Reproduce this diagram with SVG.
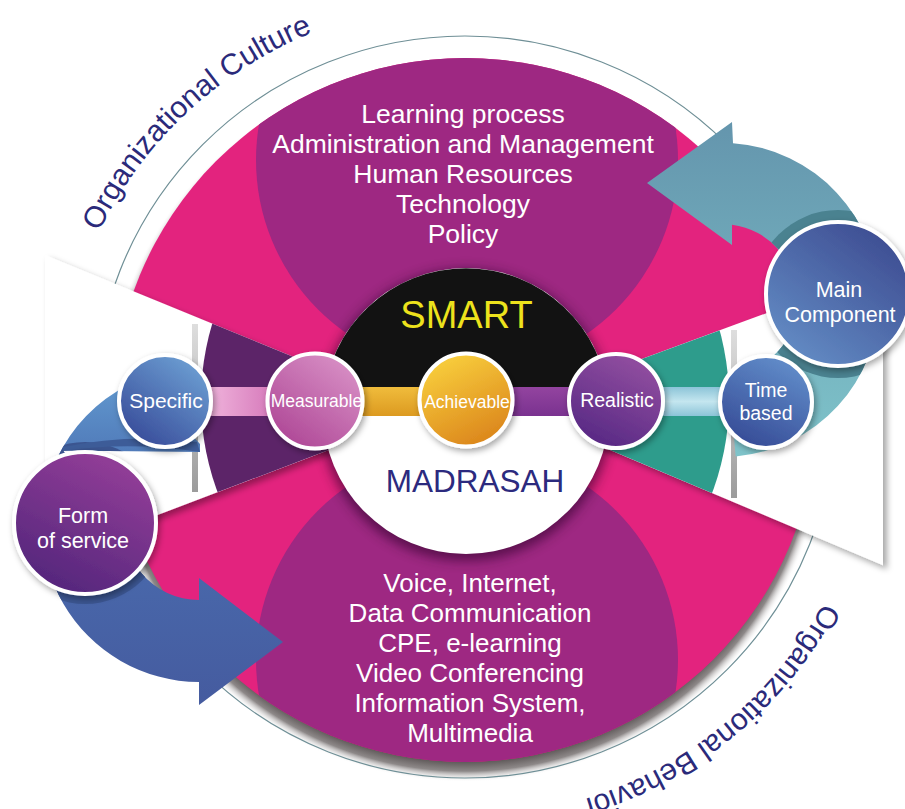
<svg xmlns="http://www.w3.org/2000/svg" width="905" height="809" viewBox="0 0 905 809">
<defs>
<style>
.lbl{font-family:"Liberation Sans",Arial,Helvetica,sans-serif;fill:#fff;text-anchor:middle}
.lens{font-family:"Liberation Sans",Arial,Helvetica,sans-serif;fill:#fff;text-anchor:middle}
.arc{font-family:"Liberation Sans",Arial,Helvetica,sans-serif;fill:#2b2a7a;font-size:30px}
.node{stroke:#fff;stroke-width:4;filter:url(#ds)}
</style>
<filter id="ds" x="-30%" y="-30%" width="160%" height="160%"><feDropShadow dx="2" dy="3" stdDeviation="3" flood-color="#000" flood-opacity="0.35"/></filter>
<filter id="wsh" x="-10%" y="-10%" width="130%" height="130%"><feDropShadow dx="4" dy="4" stdDeviation="3" flood-color="#000" flood-opacity="0.35"/></filter>
<filter id="blur6" x="-20%" y="-20%" width="140%" height="140%"><feGaussianBlur stdDeviation="6"/></filter>
<radialGradient id="rim" gradientUnits="userSpaceOnUse" cx="465" cy="420" r="362"><stop offset="0.94" stop-color="#585252"/><stop offset="0.97" stop-color="#8d8888"/><stop offset="1" stop-color="#ffffff" stop-opacity="0"/></radialGradient>
<clipPath id="pinkClip"><circle cx="465" cy="410" r="352"/></clipPath>
<clipPath id="innerClip"><circle cx="465" cy="400" r="264"/></clipPath>
<clipPath id="tealClip"><path d="M735.7,456.4 A157,157 0 0 0 879,300 A157,157 0 0 0 733,143.3 L732,122 L647,183 L732,245 L732,224.7 A76,76 0 0 1 798,300 A76,76 0 0 1 728.6,375.7 Z"/></clipPath>
<clipPath id="blueClip"><path d="M283,642 L199,705 L199,682 A157,157 0 0 1 63,447 A157,157 0 0 1 140.2,379.4 L200,444 L200,452 L63,450.5 L100,500 L125.1,512 A75,75 0 0 0 199,600 L199,578 Z"/></clipPath>
<linearGradient id="gSpecific" x1="0.8" y1="0.1" x2="0.2" y2="0.9"><stop offset="0" stop-color="#6a9bd0"/><stop offset="1" stop-color="#3a4f9c"/></linearGradient>
<linearGradient id="gMeasurable" x1="0.8" y1="0.1" x2="0.2" y2="0.9"><stop offset="0" stop-color="#d68cc3"/><stop offset="1" stop-color="#b04a98"/></linearGradient>
<linearGradient id="gAchievable" x1="0.3" y1="0.1" x2="0.7" y2="0.9"><stop offset="0" stop-color="#f6c93a"/><stop offset="1" stop-color="#dd8a1e"/></linearGradient>
<linearGradient id="gRealistic" x1="0.7" y1="0.1" x2="0.3" y2="0.9"><stop offset="0" stop-color="#8e4c9e"/><stop offset="1" stop-color="#5b2b86"/></linearGradient>
<linearGradient id="gTime" x1="0.7" y1="0.1" x2="0.3" y2="0.9"><stop offset="0" stop-color="#5e88c6"/><stop offset="1" stop-color="#39509a"/></linearGradient>
<linearGradient id="gMain" x1="0.2" y1="0.9" x2="0.8" y2="0.1"><stop offset="0" stop-color="#6189c2"/><stop offset="1" stop-color="#3f4f94"/></linearGradient>
<linearGradient id="gForm" x1="0.7" y1="0.1" x2="0.3" y2="0.9"><stop offset="0" stop-color="#8f3c96"/><stop offset="1" stop-color="#58287e"/></linearGradient>
<linearGradient id="bPink" x1="0" y1="0" x2="1" y2="0"><stop offset="0" stop-color="#f0b4dc"/><stop offset="1" stop-color="#d77cbc"/></linearGradient>
<linearGradient id="bGold" x1="0" y1="0" x2="0" y2="1"><stop offset="0" stop-color="#f0bc3c"/><stop offset="1" stop-color="#dc9a20"/></linearGradient>
<linearGradient id="bPurple" x1="0" y1="0" x2="0" y2="1"><stop offset="0" stop-color="#93449f"/><stop offset="1" stop-color="#7a3290"/></linearGradient>
<linearGradient id="bBlue" x1="0" y1="0" x2="0" y2="1"><stop offset="0" stop-color="#8cc4d8"/><stop offset="0.5" stop-color="#c4e6ef"/><stop offset="1" stop-color="#8cc4d8"/></linearGradient>
<linearGradient id="gTeal" gradientUnits="userSpaceOnUse" x1="0" y1="120" x2="0" y2="460"><stop offset="0" stop-color="#6495ad"/><stop offset="1" stop-color="#7fc4ca"/></linearGradient>
<linearGradient id="gBlue" gradientUnits="userSpaceOnUse" x1="0" y1="380" x2="0" y2="705"><stop offset="0" stop-color="#6199cf"/><stop offset="0.3" stop-color="#4b70b2"/><stop offset="1" stop-color="#455b9f"/></linearGradient>
<linearGradient id="shadeV" x1="0" y1="0" x2="0" y2="1"><stop offset="0" stop-color="#d8d8d8"/><stop offset="1" stop-color="#8a8a8a"/></linearGradient>
<path id="arcTop" d="M68.4,501.6 A407,407 0 0 1 584.0,20.8" fill="none"/>
<path id="arcBottom" d="M866.7,344.7 A407,407 0 0 1 320.7,790.6" fill="none"/>
</defs>
<rect width="905" height="809" fill="#ffffff"/>
<g id="backdrop">
 <circle cx="465" cy="420" r="362" fill="url(#rim)"/>
 <circle cx="465" cy="407" r="371" fill="none" stroke="#6f8f96" stroke-width="1.2"/>
 <circle cx="465" cy="410" r="352" fill="#e3237e"/>
 <g clip-path="url(#pinkClip)">
  <circle cx="467" cy="160" r="211" fill="#9e2882"/>
  <circle cx="467" cy="660" r="211" fill="#9e2882"/>
 </g>
 <g filter="url(#wsh)">
  <polygon points="45,255 345,378.1 345,443.8 45,557.8" fill="#ffffff"/>
  <polygon points="590,377.9 883,270.4 883,565.2 590,441.6" fill="#ffffff"/>
 </g>
 <polygon points="45,255 345,378.1 345,443.8 45,557.8" fill="#5c2468" clip-path="url(#innerClip)"/>
 <polygon points="590,377.9 883,270.4 883,565.2 590,441.6" fill="#2e9c8c" clip-path="url(#innerClip)"/>
 <rect x="192" y="324" width="6" height="168" fill="url(#shadeV)" opacity="0.85"/>
 <rect x="731" y="330" width="6" height="168" fill="url(#shadeV)" opacity="0.85"/>
</g>
<g id="lens-top">
 <text class="lens" x="463" y="123" font-size="26.5">Learning process</text>
 <text class="lens" x="463" y="153" font-size="26.5">Administration and Management</text>
 <text class="lens" x="463" y="183" font-size="26.5">Human Resources</text>
 <text class="lens" x="463" y="213" font-size="26.5">Technology</text>
 <text class="lens" x="463" y="243" font-size="26.5">Policy</text>
</g>
<g id="lens-bottom">
 <text class="lens" x="470" y="592" font-size="26">Voice, Internet,</text>
 <text class="lens" x="470" y="622" font-size="26">Data Communication</text>
 <text class="lens" x="470" y="652" font-size="26">CPE, e-learning</text>
 <text class="lens" x="470" y="682" font-size="26">Video Conferencing</text>
 <text class="lens" x="470" y="712" font-size="26">Information System,</text>
 <text class="lens" x="470" y="742" font-size="26">Multimedia</text>
</g>
<g id="node-smart-madrasah">
 <circle cx="466" cy="415" r="146" fill="#2e0529" opacity="0.6" filter="url(#blur6)"/>
 <circle cx="466" cy="411" r="143" fill="#ffffff"/>
 <path d="M323.3,402 A143,143 0 0 1 608.7,402 Z" fill="#121212"/>
 <text x="466.5" y="328" font-family="Liberation Sans, Arial, sans-serif" font-size="38" fill="#ede21c" text-anchor="middle">SMART</text>
 <text x="475" y="491.5" font-family="Liberation Sans, Arial, sans-serif" font-size="31.5" fill="#2c2a7e" text-anchor="middle">MADRASAH</text>
</g>
<g id="connectors">
 <rect x="208" y="387" width="62" height="29" fill="url(#bPink)"/>
 <rect x="358" y="387" width="64" height="29" fill="url(#bGold)"/>
 <rect x="510" y="387" width="62" height="29" fill="url(#bPurple)"/>
 <rect x="660" y="387" width="62" height="29" fill="url(#bBlue)"/>
 <path id="arrow-main" d="M735.7,456.4 A157,157 0 0 0 879,300 A157,157 0 0 0 733,143.3 L732,122 L647,183 L732,245 L732,224.7 A76,76 0 0 1 798,300 A76,76 0 0 1 728.6,375.7 Z" fill="url(#gTeal)"/>
 <circle cx="838" cy="294" r="84" fill="#4a8290" clip-path="url(#tealClip)"/>
 <path id="arrow-form" d="M283,642 L199,705 L199,682 A157,157 0 0 1 63,447 A157,157 0 0 1 140.2,379.4 L200,444 L200,452 L63,450.5 L100,500 L125.1,512 A75,75 0 0 0 199,600 L199,578 Z" fill="url(#gBlue)"/>
 <circle cx="85" cy="523" r="81" fill="#3b5590" clip-path="url(#blueClip)"/>
 <path d="M63,447 Q130,433 197,442 L200,452 Q130,441 63,451 Z" fill="#3d5c98"/>
</g>
<g id="node-specific"><circle class="node" cx="165" cy="401" r="46" fill="url(#gSpecific)"/><text class="lbl" x="166" y="407.5" font-size="21">Specific</text></g>
<g id="node-measurable"><circle class="node" cx="315" cy="401" r="47.5" fill="url(#gMeasurable)"/><text class="lbl" x="316.5" y="407" font-size="17.5">Measurable</text></g>
<g id="node-achievable"><circle class="node" cx="466" cy="400" r="46.5" fill="url(#gAchievable)"/><text class="lbl" x="467" y="407.5" font-size="17.5">Achievable</text></g>
<g id="node-realistic"><circle class="node" cx="616" cy="401" r="47" fill="url(#gRealistic)"/><text class="lbl" x="617" y="407" font-size="19.5">Realistic</text></g>
<g id="node-time-based"><circle class="node" cx="766" cy="402" r="46" fill="url(#gTime)"/><text class="lbl" x="766" y="397" font-size="19.5">Time</text><text class="lbl" x="766" y="420" font-size="19.5">based</text></g>
<g id="node-main-component"><circle class="node" cx="838" cy="294" r="72" fill="url(#gMain)"/><text class="lbl" x="839" y="297" font-size="21.5">Main</text><text class="lbl" x="840" y="322" font-size="21.5">Component</text></g>
<g id="node-form-of-service"><circle class="node" cx="85" cy="523" r="71" fill="url(#gForm)"/><text class="lbl" x="83" y="523" font-size="21.5">Form</text><text class="lbl" x="83" y="548" font-size="21.5">of service</text></g>
<g id="arc-labels">
 <text class="arc"><textPath href="#arcTop" startOffset="50%" text-anchor="middle">Organizational Culture</textPath></text>
 <text class="arc"><textPath href="#arcBottom" startOffset="50%" text-anchor="middle">Organizational Behavior</textPath></text>
</g>
</svg>
